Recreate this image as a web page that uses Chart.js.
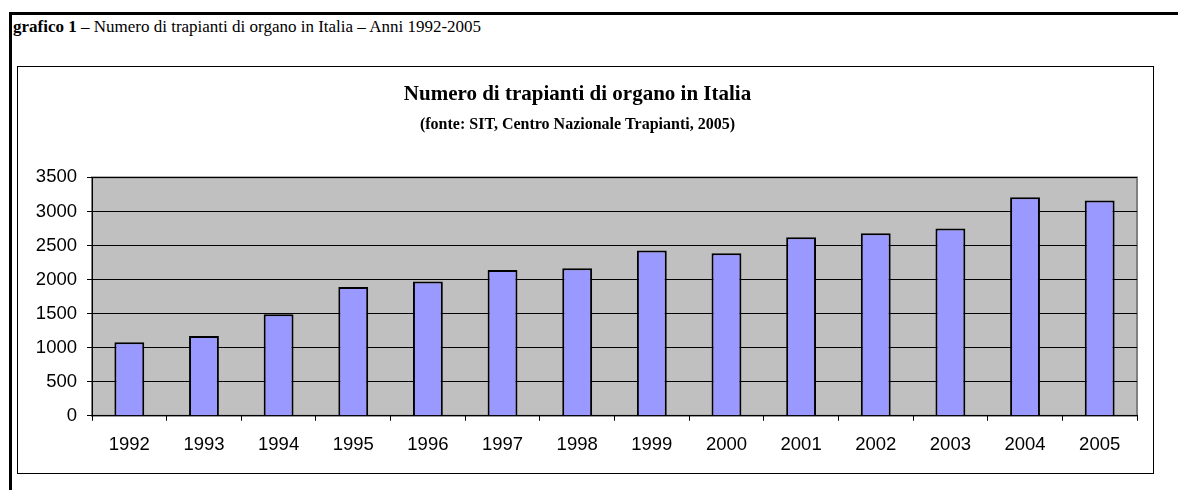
<!DOCTYPE html>
<html lang="it">
<head>
<meta charset="utf-8">
<title>Numero di trapianti di organo in Italia</title>
<script src="https://cdn.jsdelivr.net/npm/chart.js@4/dist/chart.umd.min.js"></script>
<style>
	html, body { margin: 0; padding: 0; background: #fff; width: 1178px; height: 490px; overflow: hidden; }
	#frame {
		position: absolute; left: 9px; top: 12px; width: 1300px; height: 600px;
		border-top: 3px solid #000; border-left: 3px solid #000;
	}
	#caption {
		position: absolute; left: 13px; top: 18px;
		font-family: "Liberation Serif", "Times New Roman", serif; font-size: 17px; line-height: 18px; color: #000;
		white-space: nowrap;
	}
	#chart-box {
		position: absolute; left: 17px; top: 66px; width: 1135px; height: 406px;
		border: 1px solid #000;
	}
	#chart-box canvas { display: block; }
</style>
</head>
<body>
<div id="frame"></div>
<div id="caption"><b>grafico 1</b> – Numero di trapianti di organo in Italia – Anni 1992-2005</div>
<div id="chart-box"><canvas id="trapianti" width="1135" height="406"></canvas></div>
<script>
const years = ["1992", "1993", "1994", "1995", "1996", "1997", "1998", "1999", "2000", "2001", "2002", "2003", "2004", "2005"];
const transplants = [1080, 1170, 1490, 1890, 1970, 2140, 2165, 2425, 2385, 2620, 2680, 2750, 3210, 3160];
const yTicks = [0, 500, 1000, 1500, 2000, 2500, 3000, 3500];

const chartTitle = "Numero di trapianti di organo in Italia";
const chartSubtitle = "(fonte: SIT, Centro Nazionale Trapianti, 2005)";

document.addEventListener("DOMContentLoaded", function () {
	const ctx = document.getElementById("trapianti").getContext("2d");

	// grey plot area with a thin grey outline, like the old Excel charts
	const plotBackground = {
		id: "plotBackground",
		beforeDraw(chart) {
			const a = chart.chartArea;
			const c = chart.ctx;
			c.save();
			c.fillStyle = "#c0c0c0";
			c.fillRect(a.left, a.top, a.right - a.left, a.bottom - a.top);
			c.strokeStyle = "#808080";
			c.lineWidth = 2;
			c.strokeRect(a.left, a.top, a.right - a.left, a.bottom - a.top);
			c.restore();
		}
	};

	new Chart(ctx, {
		type: "bar",
		data: {
			labels: years,
			datasets: [{
				label: "Trapianti",
				data: transplants,
				backgroundColor: "#9999ff",
				borderColor: "#000",
				borderWidth: 2,
				categoryPercentage: 1,
				barPercentage: 0.4
			}]
		},
		options: {
			responsive: false,
			animation: false,
			layout: { padding: { left: 0, right: 16, top: 0, bottom: 4 } },
			plugins: {
				legend: { display: false },
				tooltip: { enabled: false },
				title: {
					display: true,
					text: chartTitle,
					color: "#000",
					font: { family: "Liberation Serif", size: 21, weight: "bold", lineHeight: 1.2 },
					padding: { top: 15, bottom: 0 }
				},
				subtitle: {
					display: true,
					text: chartSubtitle,
					color: "#000",
					font: { family: "Liberation Serif", size: 16, weight: "bold", lineHeight: 1.2 },
					padding: { top: 8, bottom: 43 }
				}
			},
			scales: {
				x: {
					border: { color: "#000", width: 1 },
					grid: { offset: true, drawOnChartArea: false, drawTicks: true, tickLength: 5, color: "#000" },
					ticks: {
						color: "#000",
						padding: 13,
						maxRotation: 0,
						font: { family: "Liberation Sans", size: 18.5 }
					}
				},
				y: {
					min: 0,
					max: 3500,
					afterFit(scale) { scale.width = 74; },
					afterBuildTicks(scale) { scale.ticks = yTicks.map(v => ({ value: v })); },
					border: { color: "#000", width: 1 },
					grid: { color: "#000", lineWidth: 1, tickLength: 5, drawTicks: true },
					ticks: {
						color: "#000",
						padding: 10,
						font: { family: "Liberation Sans", size: 18.5 },
						callback: v => String(v)
					}
				}
			}
		},
		plugins: [plotBackground]
	});
});
</script>
</body>
</html>
